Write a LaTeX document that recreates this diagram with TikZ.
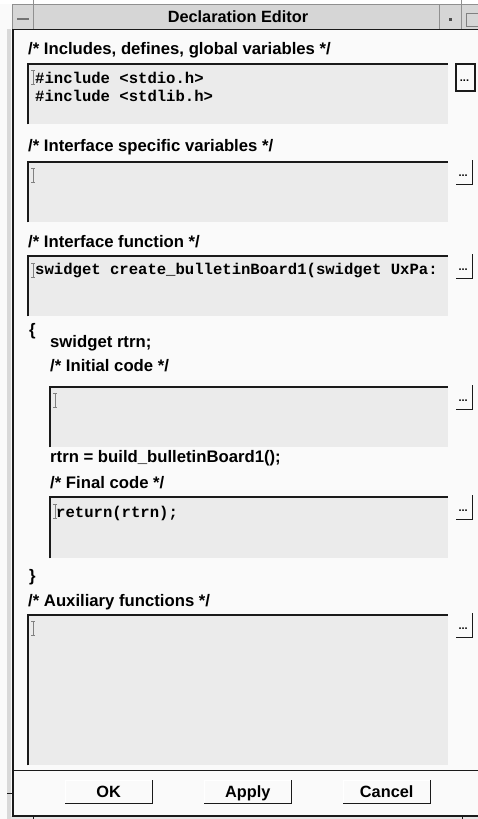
\documentclass[tikz,border=0pt]{standalone}
\usepackage{fontspec}
\setmainfont{Liberation Sans}
\newfontfamily\codefont{Liberation Mono}
\definecolor{winbg}{HTML}{FAFAFA}
\definecolor{titlebg}{HTML}{D6D6D6}
\definecolor{fieldgray}{HTML}{EBEBEB}
\definecolor{darkline}{HTML}{1A1A1A}
\definecolor{frameline}{HTML}{909090}
\tikzset{
  lbl/.style={anchor=west, inner sep=0pt, font=\bfseries\fontsize{16.7}{18}\selectfont},
  code/.style={anchor=west, inner sep=0pt, font=\codefont\bfseries\fontsize{15.6}{18}\selectfont},
  field/.style={fill=fieldgray, draw=none, anchor=north west, inner sep=0pt},
  edge/.style={draw=darkline, line width=2pt},
  ibeam/.style={draw=gray, line width=0.9pt},
  ellbtn/.style={inner sep=0pt, minimum width=16pt, minimum height=24pt, anchor=north west},
  dots/.style={inner sep=0pt, font=\bfseries\fontsize{11}{11}\selectfont},
  shadow/.style={draw=darkline, line width=1.5pt},
  pushbtn/.style={fill=winbg, inner sep=0pt, minimum width=87pt, minimum height=23pt, text height=11.5pt, text depth=0pt, anchor=north west, font=\bfseries\fontsize{16.3}{18}\selectfont},
}
\newcommand\efield[5]{%
  \node (#1) [field, minimum width=#4pt, minimum height=#5pt] at (#2,#3) {};
  \draw[edge] (#1.south west) -- (#1.north west) -- (#1.north east);
}
\newcommand\ibeamat[2]{%
  \draw[ibeam] (#1,#2) -- (#1,#2+14) (#1-2,#2) -- (#1+2,#2) (#1-2,#2+14) -- (#1+2,#2+14);
}
\newcommand\ellipsisbtn[3]{%
  \node (#1) [ellbtn] at (#2,#3) {};
  \node (#1d) [dots] at ([xshift=-1pt,yshift=-3pt]#1.center) {...};
  \draw[shadow] (#1.north east) -- (#1.south east) -- (#1.south west);
}
\begin{document}
\begin{tikzpicture}[x=1pt,y=-1pt]
\useasboundingbox (0,0) rectangle (478,819);
% window background
\fill[winbg] (0,0) rectangle (478,819);
\fill[white] (0,0) rectangle (478,4);
% outer grey strip at left
\fill[black!15] (7,29) rectangle (11,819);
\fill[black!10] (11,816) rectangle (478,819);
% title bar
\node (title) [fill=titlebg, draw=frameline, line width=0.8pt, minimum width=466pt, minimum height=25pt, anchor=north west, inner sep=0pt] at (12,4) {};
\draw[darkline, line width=1pt] (12,29) -- (478,29);
\node (titletext) [font=\bfseries\fontsize{16.3}{18}\selectfont, inner sep=0pt] at (238,17) {Declaration Editor};
\coordinate (mtop) at (33,0);
\coordinate (mbot) at (33,29);
\draw[frameline, line width=1pt] (mtop) -- (mbot);
\draw[black!55, line width=1.6pt] (17,19) -- (29,19);
\draw[frameline, line width=1pt] (439,4) -- (439,29);
\fill[black!70] (449,18) rectangle (452,21);
\coordinate (rtop) at (461,0);
\coordinate (rbot) at (461,29);
\draw[frameline, line width=1pt] (rtop) -- (rbot);
\draw[black!50, line width=0.8pt] (478,13) -- (466,13) -- (466,26) -- (478,26);
% left frame and bottom frame
\draw[darkline, line width=2pt] (13,29) -- (13,816) -- (478,816);
\draw[darkline, line width=1pt] (7,793) -- (13,793);
\draw[darkline, line width=0.8pt] (33,816) -- (33,819);
\draw[darkline, line width=0.8pt] (462,816) -- (462,819);
% section 1
\node (l1) [lbl] at (28,50) {/* Includes, defines, global variables */};
\efield{f1}{28}{64}{420}{60}
\ibeamat{33}{70}
\node (c1a) [code] at (35,78) {\#include <stdio.h>};
\node (c1b) [code] at (35,96) {\#include <stdlib.h>};
\node (b1) [inner sep=0pt, minimum width=19pt, minimum height=27pt, draw=darkline, line width=2pt, fill=winbg, anchor=north west] at (455,63) {};
\node (b1d) [dots] at ([xshift=-1pt,yshift=-3pt]b1.center) {...};
% section 2
\node (l2) [lbl] at (28,147) {/* Interface specific variables */};
\efield{f2}{28}{162}{420}{60}
\ibeamat{33}{168}
\ellipsisbtn{b2}{456}{160}
% section 3
\node (l3) [lbl] at (28,242) {/* Interface function */};
\efield{f3}{28}{256}{420}{60}
\ibeamat{33}{263}
\node (c3) [code] at (35,270) {swidget create\_bulletinBoard1(swidget UxPa:};
\ellipsisbtn{b3}{456}{254}
% braces and body
\node (ob) [lbl] at (29,331) {\{};
\node (l4a) [lbl] at (50,343) {swidget rtrn;};
\node (l4) [lbl] at (50,366) {/* Initial code */};
\efield{f4}{50}{387}{398}{60}
\ibeamat{55}{393}
\ellipsisbtn{b4}{456}{385}
\node (l5a) [lbl] at (50,458) {rtrn = build\_bulletinBoard1();};
\node (l5) [lbl] at (50,483) {/* Final code */};
\efield{f5}{50}{497}{398}{61}
\ibeamat{55}{504}
\node (c5) [code] at (56,513) {return(rtrn);};
\ellipsisbtn{b5}{456}{495}
\node (cb) [lbl] at (29,577) {\}};
% section 6
\node (l6) [lbl] at (28,602) {/* Auxiliary functions */};
\efield{f6}{28}{615}{420}{150}
\ibeamat{33}{621}
\ellipsisbtn{b6}{456}{613}
% separator
\coordinate (sepl) at (14,770);
\coordinate (sepr) at (478,770);
\draw[darkline, line width=1pt] (sepl) -- (sepr);
% push buttons
\node (ok) [pushbtn] at (65,780) {OK};
\node (apply) [pushbtn] at (204,780) {Apply};
\node (cancel) [pushbtn] at (343,780) {Cancel};
\foreach \b in {ok,apply,cancel}{
  \draw[white, line width=1pt] (\b.south west) -- (\b.north west) -- (\b.north east);
  \draw[shadow] (\b.north east) -- (\b.south east) -- (\b.south west);
}
\end{tikzpicture}
\end{document}
